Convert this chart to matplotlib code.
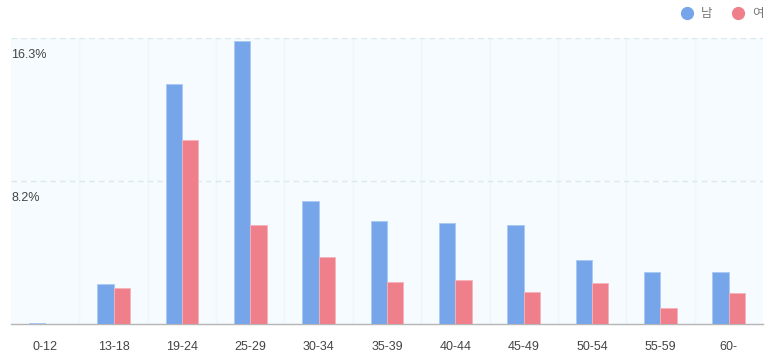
import numpy as np
import matplotlib.pyplot as plt
from matplotlib.lines import Line2D

plt.rcParams['font.family'] = ['Liberation Sans', 'Noto Sans CJK KR', 'DejaVu Sans']

ages = ['0-12', '13-18', '19-24', '25-29', '30-34', '35-39', '40-44', '45-49', '50-54', '55-59', '60-']
male = [0.05, 2.27, 13.65, 16.13, 7.02, 5.88, 5.76, 5.65, 3.62, 2.97, 2.97]
female = [0.0, 2.07, 10.5, 5.63, 3.82, 2.40, 2.51, 1.81, 2.31, 0.94, 1.79]
ymax = 16.3
tick_vals = [ymax / 2, ymax]
tick_text = ['8.2%', '16.3%']

blue = '#76a5ea'
red = '#ef7f8a'

fig = plt.figure(figsize=(7.73, 3.56), dpi=100)
ax = fig.add_axes([11 / 773, 32 / 356, 752 / 773, 286 / 356])
ax.set_facecolor('#f5fbff')

x = np.arange(len(ages))
w = 0.24
ax.bar(x - w / 2, male, w, color=blue, edgecolor='#a9c8f3', linewidth=0.6, zorder=3)
ax.bar(x + w / 2, female, w, color=red, edgecolor='#f6b3ba', linewidth=0.6, zorder=3)

ax.set_xlim(-0.5, len(ages) - 0.5)
ax.set_ylim(0, ymax)

# faint vertical separators between categories
for b in np.arange(0.5, len(ages) - 0.5):
    ax.axvline(b, color='#edf7fd', lw=1, zorder=1)
for v, t in zip(tick_vals, tick_text):
    ax.axhline(v, color='#dde8ee', lw=1, ls=(0, (4, 3)), zorder=2)
    ax.text(0.0, v - 0.6, t, transform=ax.get_yaxis_transform(), ha='left', va='top',
            fontsize=9, color='#444444', zorder=4)

for s in ['top', 'right', 'left']:
    ax.spines[s].set_visible(False)
ax.spines['bottom'].set_color('#b5b5b5')
ax.spines['bottom'].set_linewidth(1)
ax.set_yticks([])
ax.set_xticks(x)
ax.set_xticklabels(ages, fontsize=9, color='#444444')
ax.tick_params(axis='x', length=0, pad=12)

# legend at top right
ly = 1 - 13 / 356
for cx, col, lab in [(687, blue, '남'), (738, red, '여')]:
    fig.add_artist(Line2D([cx / 773], [ly], marker='o', markersize=8.5, color=col,
                          linestyle='none', transform=fig.transFigure))
    fig.text((cx + 14) / 773, ly, lab, color='#777777', fontsize=9, ha='left', va='center',
             family=['Noto Sans CJK KR', 'DejaVu Sans'])

plt.savefig('out.png', dpi=100)
plt.close()
